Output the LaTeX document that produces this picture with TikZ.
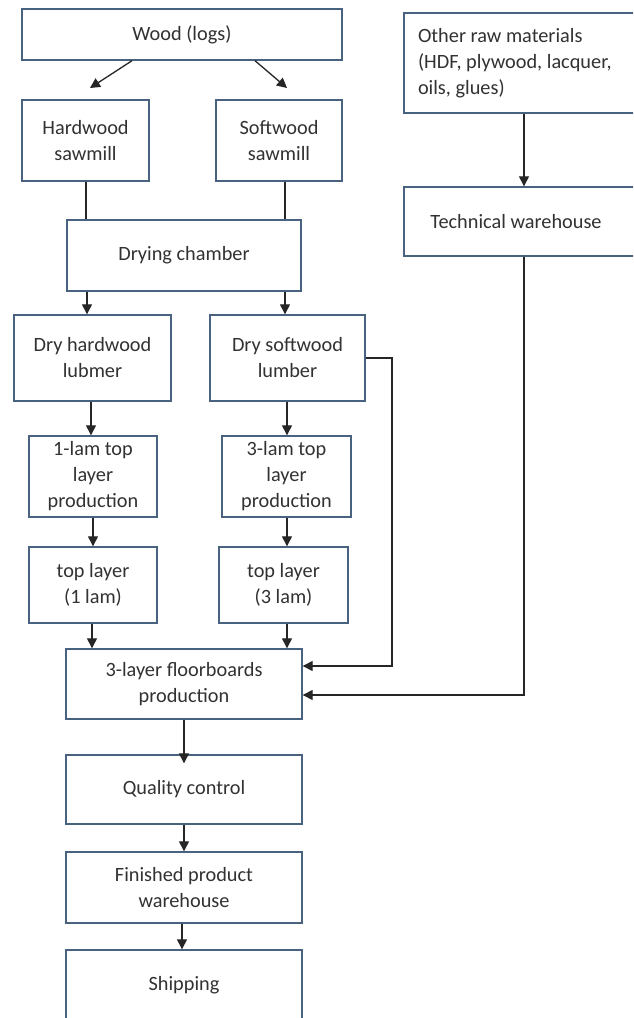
\documentclass[tikz,border=0pt]{standalone}
\usepackage{fontspec}
\setmainfont{Carlito}
\usetikzlibrary{arrows.meta,calc}
\definecolor{boxline}{RGB}{72,98,128}
\definecolor{txt}{RGB}{50,50,50}
\begin{document}
\begin{tikzpicture}[x=1pt,y=-1pt,
  box/.style={draw=boxline,line width=1.4pt,fill=white,align=center,text=txt,
    font=\fontsize{20.3}{26}\selectfont,inner sep=0pt},
  arr/.style={line width=1.3pt,draw=black!85,-{Triangle[length=10pt,width=10pt]}},
  ln/.style={line width=1.3pt,draw=black!85}]
\useasboundingbox (0,0) rectangle (633,1018);
\clip (0,0) rectangle (633,1018);
\fill[white] (0,0) rectangle (633,1018);

\node[box,minimum width=250pt,minimum height=100pt,text width=236pt,align=left,inner xsep=7pt] (other) at (529,63) {\spaceskip=0pt\xspaceskip=0pt\hspace*{7pt}Other raw materials\\\hspace*{7pt}(HDF, plywood, lacquer,\\\hspace*{7pt}oils, glues)};
\node[box,minimum width=250pt,minimum height=69pt] (tech) at (529,221.5) {Technical warehouse\hspace*{26pt}};
\node[box,minimum width=320pt,minimum height=51pt] (wood) at (182,34.5) {Wood (logs)};
\node[box,minimum width=127pt,minimum height=81pt] (hard) at (85.5,140.5) {Hardwood\\sawmill};
\node[box,minimum width=126pt,minimum height=81pt] (soft) at (279,140.5) {Softwood\\sawmill};
\node[box,minimum width=234pt,minimum height=71pt] (dry) at (184,255.5) {Drying chamber};
\node[box,minimum width=157pt,minimum height=86pt] (dryhard) at (92.5,358) {Dry hardwood\\lubmer};
\node[box,minimum width=155pt,minimum height=86pt] (drysoft) at (287.5,358) {Dry softwood\\lumber};
\node[box,minimum width=128pt,minimum height=81pt] (lamA) at (93,476.5) {1-lam top\\layer\\production};
\node[box,minimum width=129pt,minimum height=81pt] (lamB) at (286.5,476.5) {3-lam top\\layer\\production};
\node[box,minimum width=128pt,minimum height=76pt] (topA) at (93,585) {top layer\\(1 lam)};
\node[box,minimum width=129pt,minimum height=76pt] (topB) at (283.5,585) {top layer\\(3 lam)};
\node[box,minimum width=236pt,minimum height=70pt] (floor) at (184,684) {3-layer floorboards\\production};
\node[box,minimum width=236pt,minimum height=69pt] (qc) at (184,789.5) {Quality control};
\node[box,minimum width=236pt,minimum height=71pt] (fin) at (184,887.5) {Finished product\\warehouse};
\node[box,minimum width=236pt,minimum height=70pt] (ship) at (184,985) {Shipping};

% helper columns
\coordinate (cA) at (132,0);
\coordinate (cB) at (255,0);
\coordinate (tipA) at (90,88);
\coordinate (tipB) at (287,88);
\coordinate (c86) at (86,0);
\coordinate (c285) at (285,0);
\coordinate (c87) at (87,0);
\coordinate (c91) at (91,0);
\coordinate (c287) at (287,0);
\coordinate (c93) at (93,0);
\coordinate (c92) at (92,0);
\coordinate (c182) at (182,0);
\coordinate (c524) at (524,0);
\coordinate (c392) at (392,0);
\coordinate (y666) at (0,666);
\coordinate (y695) at (0,695);

\draw[arr] (wood.south -| cA) -- (tipA);
\draw[arr] (wood.south -| cB) -- (tipB);
\draw[arr] (other.south -| c524) -- (tech.north -| c524);
\draw[ln] (hard.south -| c86) -- (dry.north -| c86);
\draw[ln] (soft.south -| c285) -- (dry.north -| c285);
\draw[arr] (dry.south -| c87) -- (dryhard.north -| c87);
\draw[arr] (dry.south -| c285) -- (drysoft.north -| c285);
\draw[arr] (dryhard.south -| c91) -- (lamA.north -| c91);
\draw[arr] (drysoft.south -| c287) -- (lamB.north -| c287);
\draw[arr] (lamA.south -| c93) -- (topA.north -| c93);
\draw[arr] (lamB.south -| c287) -- (topB.north -| c287);
\draw[arr] (topA.south -| c92) -- (floor.north -| c92);
\draw[arr] (topB.south -| c287) -- (floor.north -| c287);
\draw[arr] (drysoft.east) -| (c392 |- y666) -- (floor.east |- y666);
\draw[arr] (tech.south -| c524) -- (c524 |- y695) -- (floor.east |- y695);
\draw[arr] (floor.south) -- ([yshift=-9pt]qc.north);
\draw[arr] (qc.south) -- (fin.north);
\draw[arr] (fin.south -| c182) -- (ship.north -| c182);
\end{tikzpicture}
\end{document}
